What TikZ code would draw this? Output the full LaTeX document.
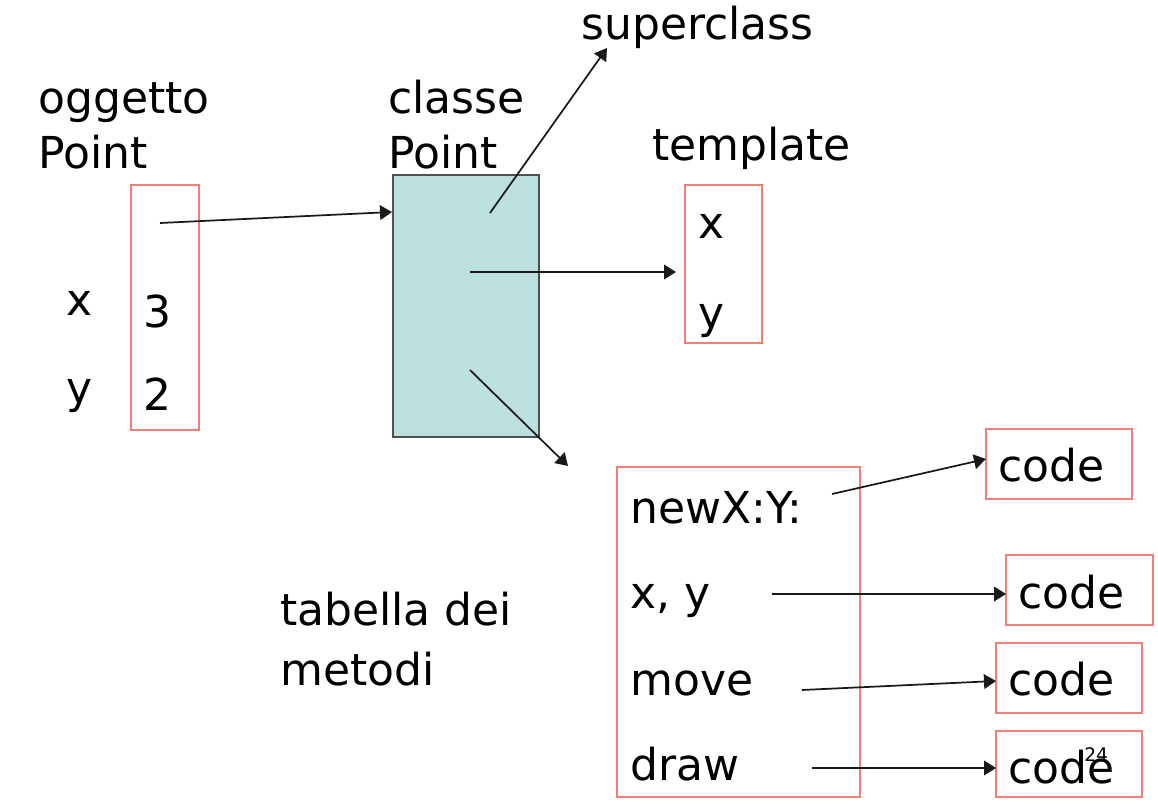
\documentclass[tikz,border=0pt]{standalone}
\usepackage{fontspec}
\setmainfont{DejaVu Sans}
\usetikzlibrary{arrows.meta,fit}
\definecolor{boxred}{RGB}{240,128,118}
\definecolor{clsfill}{RGB}{188,223,224}
\definecolor{clsline}{RGB}{80,80,80}
\begin{document}
\begin{tikzpicture}[x=0.75pt,y=-0.75pt,
  txt/.style={anchor=base west,inner sep=0pt,font=\fontsize{33}{40}\selectfont},
  redbox/.style={draw=boxred,line width=1.2pt,inner sep=0pt},
  clsbox/.style={draw=clsline,fill=clsfill,line width=1.1pt,inner sep=0pt},
  arr/.style={-{Triangle[length=9pt,width=11pt]},line width=1.3pt,black!90}]
\useasboundingbox (0,0) rectangle (1158,810);
% labels
\node[txt] (lobj1) at (38,113) {oggetto};
\node[txt] (lobj2) at (38,168) {Point};
\node[txt] (lcls1) at (388,113) {classe};
\node[txt] (lcls2) at (388,168) {Point};
\node[txt] (lsup) at (581,40) {superclass};
\node[txt] (ltpl) at (652,160) {template};
\node[txt] (ltab1) at (280,625) {tabella dei};
\node[txt] (ltab2) at (280,685) {metodi};
% object
\node[redbox,fit={(131,185) (199,430)}] (obj) {};
\node[txt] (ox) at (66,315) {x};
\node[txt] (oy) at (66,403) {y};
\node[txt] (o3) at (143,327) {3};
\node[txt] (o2) at (143,410) {2};
% class
\node[clsbox,fit={(393,175) (539,437)}] (cls) {};
% template
\node[redbox,fit={(685,185) (762,343)}] (tpl) {};
\node[txt] (tx) at (698,238) {x};
\node[txt] (ty) at (698,328) {y};
% table
\node[redbox,fit={(617,467) (860,797)}] (tab) {};
\node[txt] (m1) at (630,523) {newX:Y:};
\node[txt] (m2) at (630,608) {x, y};
\node[txt] (m3) at (630,695) {move};
\node[txt] (m4) at (630,780) {draw};
% code boxes
\node[redbox,fit={(986,429) (1132,499)}] (c1) {};
\node[redbox,fit={(1006,555) (1153,625)}] (c2) {};
\node[redbox,fit={(996,643) (1142,713)}] (c3) {};
\node[redbox,fit={(996,731) (1142,797)}] (c4) {};
\node[txt] (t1) at (998,481) {code};
\node[txt] (t2) at (1018,608) {code};
\node[txt] (t3) at (1008,695) {code};
\node[txt] (t4) at (1008,783) {code};
\node[anchor=base west,inner sep=0pt,font=\fontsize{14}{16}\selectfont] (pg) at (1084,761) {24};
% connector ends
\coordinate (sObj) at (160,223);
\coordinate (eCls) at (392,212);
\coordinate (sSup) at (490,213);
\coordinate (eSup) at (607,48);
\coordinate (sTpl) at (470,272);
\coordinate (eTpl) at (676,272);
\coordinate (sTab) at (470,370);
\coordinate (eTab) at (568,466);
\coordinate (s1) at (832,494);
\coordinate (e1) at (986,459);
\coordinate (s2) at (772,594);
\coordinate (e2) at (1006,594);
\coordinate (s3) at (802,690);
\coordinate (e3) at (996,681);
\coordinate (s4) at (812,768);
\coordinate (e4) at (996,768);
\draw[arr] (sObj) -- (eCls);
\draw[arr] (sSup) -- (eSup);
\draw[arr] (sTpl) -- (eTpl);
\draw[arr] (sTab) -- (eTab);
\draw[arr] (s1) -- (e1);
\draw[arr] (s2) -- (e2);
\draw[arr] (s3) -- (e3);
\draw[arr] (s4) -- (e4);
\end{tikzpicture}
\end{document}
